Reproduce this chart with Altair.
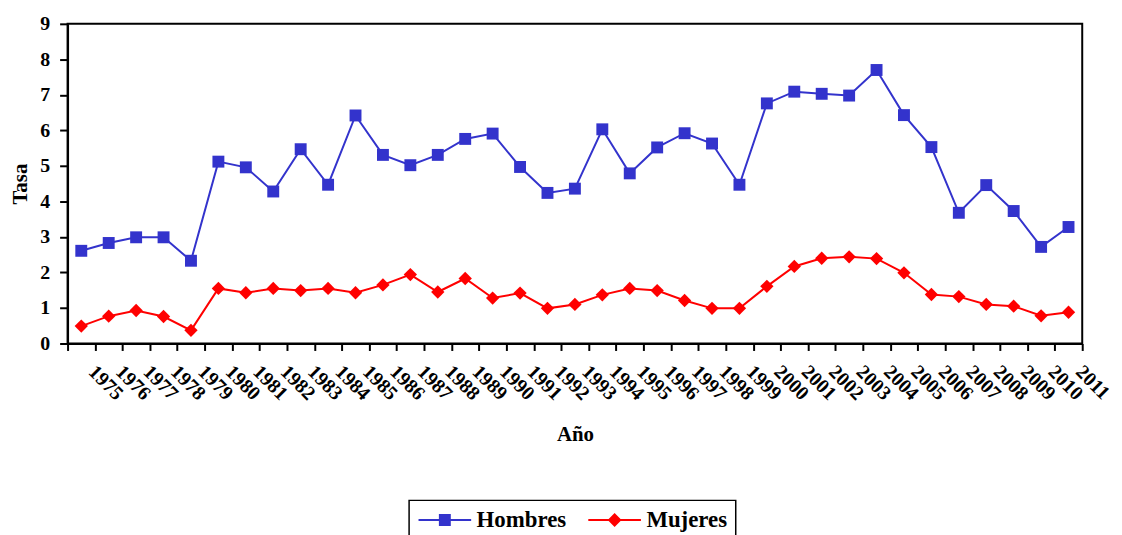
import altair as alt
import pandas as pd

years = ["1975", "1976", "1977", "1978", "1979", "1980", "1981", "1982", "1983", "1984",
         "1985", "1986", "1987", "1988", "1989", "1990", "1991", "1992", "1993", "1994",
         "1995", "1996", "1997", "1998", "1999", "2000", "2001", "2002", "2003", "2004",
         "2005", "2006", "2007", "2008", "2009", "2010", "2011"]
hombres = [2.61, 2.83, 2.99, 2.99, 2.33, 5.12, 4.96, 4.28, 5.47, 4.47, 6.42, 5.31,
           5.02, 5.31, 5.76, 5.91, 4.97, 4.24, 4.36, 6.03, 4.79, 5.52, 5.92, 5.63, 4.47,
           6.76, 7.09, 7.03, 6.98, 7.70, 6.43, 5.53, 3.68, 4.46, 3.73, 2.72, 3.28]
mujeres = [0.49, 0.77, 0.93, 0.76, 0.37, 1.55, 1.43, 1.55, 1.49, 1.55, 1.43, 1.65,
           1.94, 1.45, 1.83, 1.28, 1.42, 0.99, 1.10, 1.37, 1.55, 1.49, 1.21, 0.99, 0.99,
           1.61, 2.17, 2.40, 2.44, 2.39, 1.99, 1.38, 1.32, 1.10, 1.05, 0.78, 0.88]
series = ["Hombres", "Mujeres"]
colors = ["#3333CC", "#FF0000"]
y_ticks = [0, 1, 2, 3, 4, 5, 6, 7, 8, 9]

df = pd.DataFrame({
    "Año": years * 2,
    "Tasa": hombres + mujeres,
    "serie": [series[0]] * len(years) + [series[1]] * len(years),
})

FONT = "Liberation Serif, DejaVu Serif, serif"

x_enc = alt.X("Año:O", sort=years,
              scale=alt.Scale(domain=years, paddingInner=0, paddingOuter=0),
              axis=alt.Axis(title="Año", labelAngle=45, labelAlign="left",
                            labelBaseline="top", labelOffset=17, labelPadding=11,
                            labelOverlap=False, labelBound=False, labelFlush=False,
                            tickBand="extent", tickSize=7, titlePadding=20))
y_enc = alt.Y("Tasa:Q", scale=alt.Scale(domain=[0, 9], nice=False, zero=True),
              axis=alt.Axis(title="Tasa", values=y_ticks, tickSize=8, labelPadding=10,
                            titlePadding=9))

base = alt.Chart(df)

line_h = base.transform_filter(alt.datum.serie == "Hombres").mark_line(
    color=colors[0], strokeWidth=2).encode(x=x_enc, y=y_enc)
line_m = base.transform_filter(alt.datum.serie == "Mujeres").mark_line(
    color=colors[1], strokeWidth=2).encode(x=x_enc, y=y_enc)
pts_h = base.transform_filter(alt.datum.serie == "Hombres").mark_point(
    shape="square", filled=True, size=144, color=colors[0], opacity=1).encode(x=x_enc, y=y_enc)
pts_m = base.transform_filter(alt.datum.serie == "Mujeres").mark_point(
    shape="diamond", filled=True, size=180, color=colors[1], opacity=1).encode(x=x_enc, y=y_enc)

sym_h = "M-1,-0.1H4.3V0.1H-1Z M1.05,-0.6H2.25V0.6H1.05Z"
sym_m = "M-1,-0.1H4.3V0.1H-1Z M1.65,-0.7L2.35,0L1.65,0.7L0.95,0Z"

legend_layer = base.transform_filter("false").mark_point(filled=True, opacity=1).encode(
    color=alt.Color("serie:N", scale=alt.Scale(domain=series, range=colors),
                    legend=alt.Legend(orient="none", legendX=344, legendY=480,
                                      direction="horizontal", title=None,
                                      strokeColor="black", padding=8,
                                      symbolSize=400, symbolStrokeWidth=0,
                                      labelOffset=37, columnPadding=20,
                                      labelFont=FONT, labelFontSize=23,
                                      labelFontWeight="bold", labelColor="black")),
    shape=alt.Shape("serie:N", scale=alt.Scale(domain=series, range=[sym_h, sym_m]),
                    legend=alt.Legend(orient="none", legendX=344, legendY=480,
                                      direction="horizontal", title=None)),
)

chart = alt.layer(line_h, line_m, pts_h, pts_m, legend_layer).properties(
    width=1022, height=322,
    autosize=alt.AutoSizeParams(type="none"),
    padding={"left": 60, "top": 14, "right": 32, "bottom": 200},
).configure_view(
    stroke="black", strokeWidth=2
).configure_axis(
    grid=False, domainColor="black", domainWidth=2, tickColor="black", tickWidth=2,
    labelFont=FONT, labelFontSize=20, labelFontWeight="bold", labelColor="black",
    titleFont=FONT, titleFontSize=21, titleFontWeight="bold", titleColor="black",
).configure_legend(
    strokeWidth=1.5
)

chart.save("out.html", embed_options={"renderer": "svg", "actions": False})
